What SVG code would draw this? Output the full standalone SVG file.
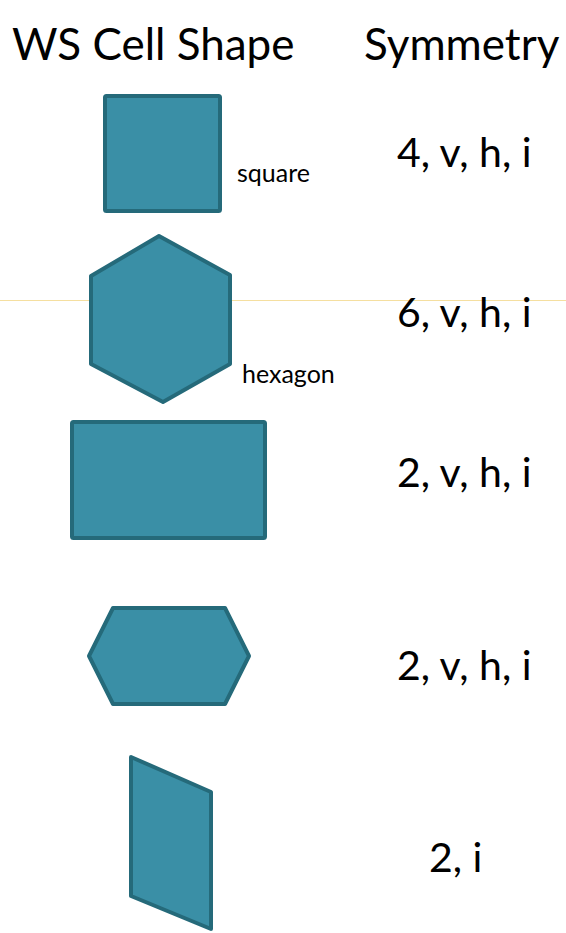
<svg xmlns="http://www.w3.org/2000/svg" width="566" height="933" viewBox="0 0 566 933">
  <style>
    .cell { fill: #3a8fa6; stroke: #256a7a; stroke-width: 4; stroke-linejoin: round; }
    .head { font-family: Lato, "Open Sans", sans-serif; font-size: 44px; fill: #000; }
    .sym { font-family: Lato, "Open Sans", sans-serif; font-size: 41px; fill: #000; }
    .lbl { font-family: Lato, "Open Sans", sans-serif; font-size: 25px; fill: #000; }
    .guide { stroke: #f5dfa0; stroke-width: 1.2; }
  </style>
  <rect width="566" height="933" fill="#ffffff"/>

  <!-- thin horizontal guide line behind the shapes -->
  <line class="guide" x1="0" y1="300.5" x2="566" y2="300.5"/>

  <!-- column headings -->
  <g id="headings">
    <text class="head" x="12" y="60">WS Cell Shape</text>
    <text class="head" x="364" y="60">Symmetry</text>
  </g>

  <g id="square">
    <rect class="cell" x="105" y="96" width="115" height="115" rx="1.5"/>
    <text class="lbl" x="237" y="182">square</text>
  </g>

  <g id="hexagon">
    <polygon class="cell" points="159,236 230,275 230,364 163,402 91,364 91,276"/>
    <text class="lbl" x="242" y="383">hexagon</text>
  </g>

  <g id="rectangle">
    <rect class="cell" x="72" y="422" width="193" height="116" rx="1.5"/>
  </g>

  <g id="flat-hexagon">
    <polygon class="cell" points="113,608 225,608 249,656 225,704 113,704 89,656"/>
  </g>

  <g id="parallelogram">
    <polygon class="cell" points="131,757 211,792 211,929 131,896"/>
  </g>

  <!-- symmetry entries -->
  <g id="symmetry">
    <text class="sym" x="397" y="167">4, v, h, i</text>
    <text class="sym" x="397" y="327">6, v, h, i</text>
    <text class="sym" x="397" y="487">2, v, h, i</text>
    <text class="sym" x="397" y="680">2, v, h, i</text>
    <text class="sym" x="429" y="872">2, i</text>
  </g>
</svg>
